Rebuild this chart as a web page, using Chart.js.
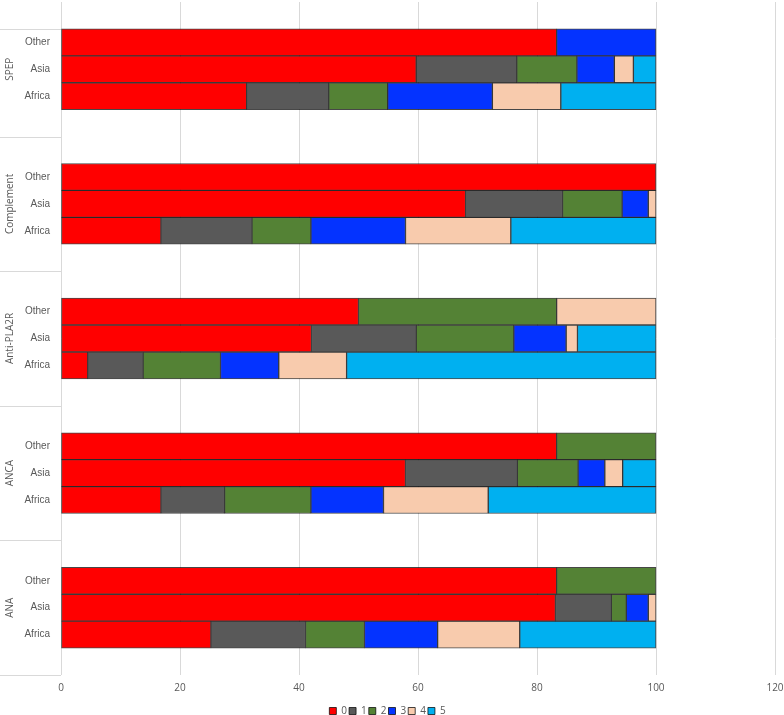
<!DOCTYPE html>
<html>
<head>
<meta charset="utf-8">
<script src="https://cdn.jsdelivr.net/npm/chart.js@4/dist/chart.umd.min.js"></script>
<style>
  body { margin: 0; background: #fff; }
  #wrap { width: 784px; height: 715px; }
</style>
</head>
<body>
<div id="wrap"><canvas id="myChart" width="784" height="715"></canvas></div>
<script>
// groups top to bottom, regions inside each group top to bottom
const groups = ["SPEP", "Complement", "Anti-PLA2R", "ANCA", "ANA"];
const regions = ["Other", "Asia", "Africa"];
const seriesNames = ["0", "1", "2", "3", "4", "5"];
const seriesColors = ["#FF0000", "#595959", "#548235", "#0433FF", "#F8CBAD", "#00B0F0"];
const xTicks = [0, 20, 40, 60, 80, 100, 120];

// each row: share of series 0..5 (percent)
const spep = [
  [83.3, 0, 0, 16.7, 0, 0],
  [59.7, 16.9, 10.1, 6.3, 3.2, 3.8],
  [31.2, 13.8, 9.9, 17.6, 11.5, 16.0]
];
const complement = [
  [100, 0, 0, 0, 0, 0],
  [68.0, 16.3, 10.0, 4.4, 1.3, 0],
  [16.8, 15.3, 9.9, 15.9, 17.7, 24.4]
];
const antiPla2r = [
  [50.0, 0, 33.3, 0, 16.7, 0],
  [42.1, 17.6, 16.4, 8.8, 1.9, 13.2],
  [4.5, 9.3, 13.0, 9.8, 11.4, 52.0]
];
const anca = [
  [83.3, 0, 16.7, 0, 0, 0],
  [57.9, 18.8, 10.2, 4.5, 3.0, 5.6],
  [16.8, 10.7, 14.5, 12.2, 17.6, 28.2]
];
const ana = [
  [83.3, 0, 16.7, 0, 0, 0],
  [83.1, 9.4, 2.5, 3.7, 1.3, 0],
  [25.2, 15.9, 9.9, 12.3, 13.8, 22.9]
];
const groupRows = [spep, complement, antiPla2r, anca, ana];

// 5 slots per group: blank, Other, Asia, Africa, blank
let labels = [];
groups.forEach(function () {
  labels.push("");
  regions.forEach(function (r) { labels.push(r); });
  labels.push("");
});

let datasets = seriesNames.map(function (name, s) {
  let data = [];
  groupRows.forEach(function (rows) {
    data.push(null);
    rows.forEach(function (row) { data.push(row[s]); });
    data.push(null);
  });
  return {
    label: name,
    data: data,
    backgroundColor: seriesColors[s],
    borderColor: "rgba(0,0,0,0.72)",
    borderWidth: 1,
    borderSkipped: false,
    categoryPercentage: 1,
    barPercentage: 1
  };
});

const groupAxis = {
  id: "groupAxis",
  afterDraw(chart) {
    const ctx = chart.ctx;
    const area = chart.chartArea;
    const y = chart.scales.y;
    const slot = y.getPixelForValue(1) - y.getPixelForValue(0);
    ctx.save();
    ctx.strokeStyle = "#d9d9d9";
    ctx.lineWidth = 1;
    groups.forEach(function (g, i) {
      const top = y.getPixelForValue(i * 5) - slot / 2;
      const bottom = top + slot * 5;
      const lines = i === 0 ? [top + slot, bottom] : [bottom];
      lines.forEach(function (ly) {
        ctx.beginPath();
        ctx.moveTo(0, Math.round(ly) + 0.5);
        ctx.lineTo(area.left, Math.round(ly) + 0.5);
        ctx.stroke();
      });
      ctx.save();
      ctx.translate(10, (top + bottom) / 2);
      ctx.rotate(-Math.PI / 2);
      ctx.fillStyle = "#595959";
      ctx.font = "10px 'Open Sans'";
      ctx.textAlign = "center";
      ctx.textBaseline = "middle";
      ctx.fillText(g, 0, 0);
      ctx.restore();
    });
    ctx.restore();
  }
};

Chart.defaults.font.family = "'Open Sans', sans-serif";
Chart.defaults.color = "#595959";

new Chart("myChart", {
  type: "bar",
  data: { labels: labels, datasets: datasets },
  plugins: [groupAxis],
  options: {
    indexAxis: "y",
    responsive: false,
    animation: false,
    layout: { padding: { top: 2, right: 9, bottom: -11, left: 0 } },
    scales: {
      x: {
        stacked: true,
        min: 0,
        max: 120,
        afterBuildTicks: function (scale) {
          scale.ticks = xTicks.map(function (v) { return { value: v }; });
        },
        afterFit: function (scale) {
          scale.height = 29;
          scale.paddingLeft = 0;
          scale.paddingRight = 0;
        },
        grid: { color: "#d9d9d9", drawTicks: false },
        border: { display: false },
        ticks: { padding: 7, font: { size: 10 }, color: "#595959" }
      },
      y: {
        stacked: true,
        afterFit: function (scale) {
          scale.width = 61;
          scale.paddingTop = 0;
          scale.paddingBottom = 0;
        },
        grid: { display: false, drawTicks: false },
        border: { display: false },
        ticks: {
          padding: 11,
          autoSkip: false,
          font: { size: 10, family: "'Liberation Sans', sans-serif" },
          color: "#595959"
        }
      }
    },
    plugins: {
      legend: {
        position: "bottom",
        labels: {
          boxWidth: 7,
          boxHeight: 7,
          padding: 2,
          font: { size: 10 },
          color: "#595959"
        }
      },
      tooltip: { enabled: false }
    }
  }
});
</script>
</body>
</html>
